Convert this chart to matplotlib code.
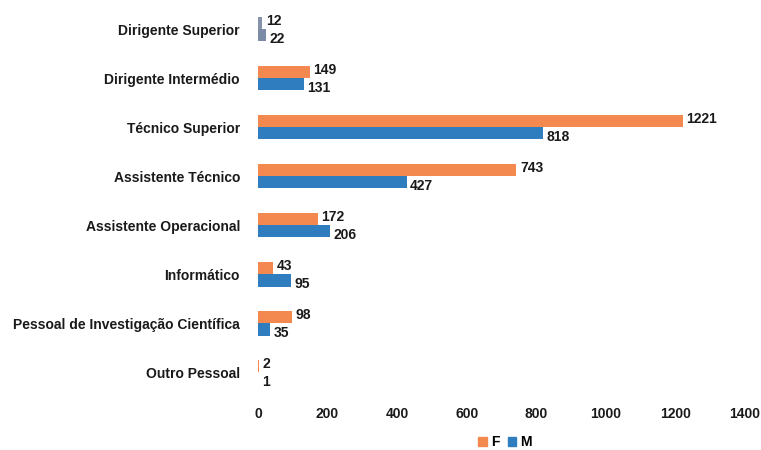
import matplotlib
matplotlib.use('Agg')
import matplotlib.pyplot as plt
import numpy as np

plt.rcParams['font.family'] = ['Liberation Sans', 'DejaVu Sans']
plt.rcParams['font.weight'] = 'bold'

categories = ['Dirigente Superior', 'Dirigente Intermédio', 'Técnico Superior',
              'Assistente Técnico', 'Assistente Operacional', 'Informático',
              'Pessoal de Investigação Científica', 'Outro Pessoal']
f_vals = [12, 149, 1221, 743, 172, 43, 98, 2]
m_vals = [22, 131, 818, 427, 206, 95, 35, 1]

orange = '#F4894F'
blue = '#2F7DBE'

fig = plt.figure(figsize=(7.61, 4.5), dpi=100)
ax = fig.add_axes([0.339, 0.118, 0.640, 0.872])

y = np.arange(len(categories))
h = 0.25
f_cols = [orange] * len(categories)
m_cols = [blue] * len(categories)
# the top pair looks washed-out grey in the scan
f_cols[0] = '#8592A8'
m_cols[0] = '#7D8CA6'
ax.barh(y - h / 2, f_vals, height=h, color=f_cols, label='F')
ax.barh(y + h / 2, m_vals, height=h, color=m_cols, label='M')

fs = 10
for i in range(len(categories)):
    ax.text(f_vals[i] + 10, y[i] - h / 2 - 0.04, str(f_vals[i]), va='center',
            ha='left', fontsize=fs, fontweight='bold', color='#1a1a1a')
    ax.text(m_vals[i] + 10, y[i] + h / 2 + 0.07, str(m_vals[i]), va='center',
            ha='left', fontsize=fs, fontweight='bold', color='#1a1a1a')

ax.set_yticks(y)
ax.set_yticklabels(categories, fontsize=fs, fontweight='bold', color='#1a1a1a')
ax.set_ylim(len(categories) - 0.5, -0.5)
ax.set_xlim(0, 1400)
ax.set_xticks(np.arange(0, 1401, 200))
ax.tick_params(axis='x', labelsize=fs, colors='#1a1a1a', length=0, pad=7)
ax.tick_params(axis='y', length=0, pad=13)
for lbl in ax.get_xticklabels():
    lbl.set_fontweight('bold')
for s in ax.spines.values():
    s.set_visible(False)

ax.legend(loc='upper center', bbox_to_anchor=(0.507, -0.09), ncol=2, frameon=False,
          handlelength=0.6, handleheight=0.6, handletextpad=0.3, columnspacing=0.6,
          borderaxespad=0, borderpad=0.2, prop={'weight': 'bold', 'size': fs})
leg = ax.get_legend()
leg.legend_handles[0].set_color(orange)
leg.legend_handles[1].set_color(blue)

fig.savefig('out.png', dpi=100)
